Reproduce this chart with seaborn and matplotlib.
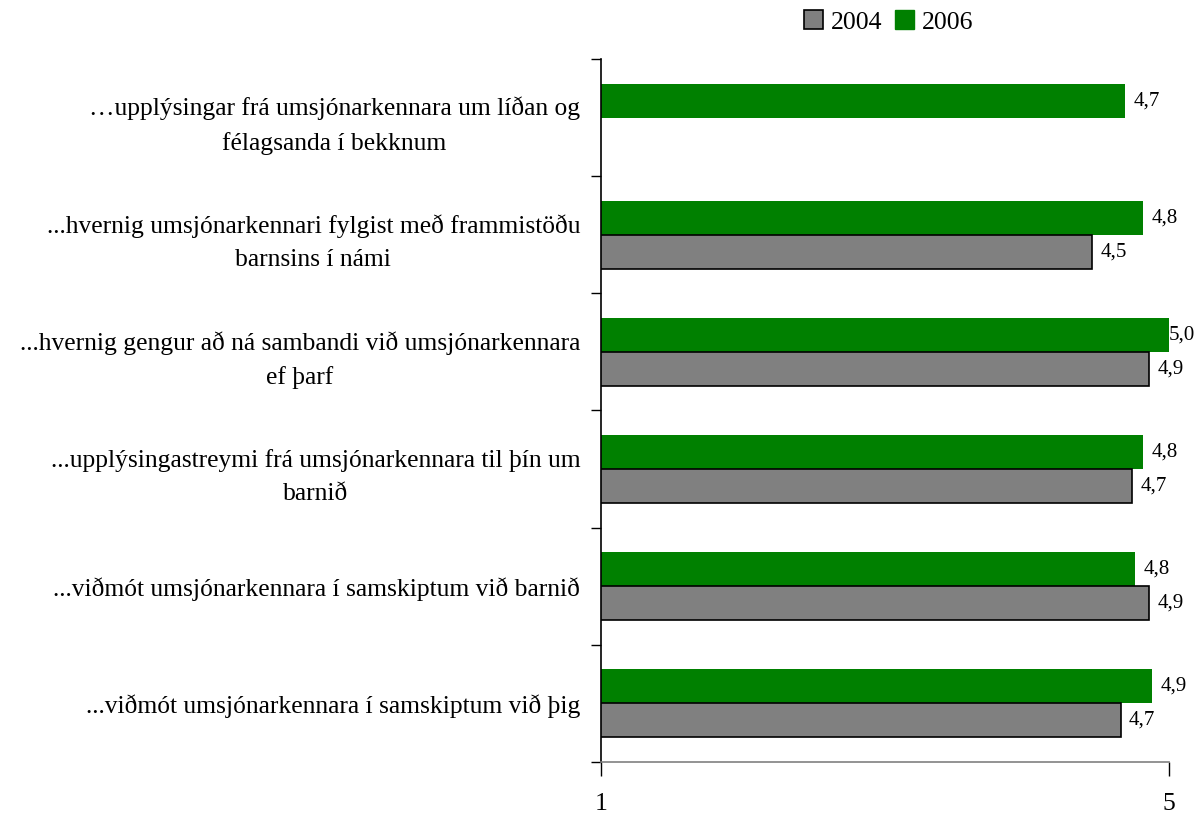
import numpy as np
import pandas as pd
import matplotlib
matplotlib.use("Agg")
import matplotlib.pyplot as plt
import seaborn as sns
from matplotlib.patches import Patch

categories = [
    "…upplýsingar frá umsjónarkennara um líðan og\nfélagsanda í bekknum",
    "...hvernig umsjónarkennari fylgist með frammistöðu\nbarnsins í námi",
    "...hvernig gengur að ná sambandi við umsjónarkennara\nef þarf",
    "...upplýsingastreymi frá umsjónarkennara til þín um\nbarnið",
    "...viðmót umsjónarkennara í samskiptum við barnið",
    "...viðmót umsjónarkennara í samskiptum við þig",
]
values_2004 = [np.nan, 4.46, 4.86, 4.74, 4.86, 4.66]
values_2006 = [4.69, 4.82, 5.00, 4.82, 4.76, 4.88]
years = ["2004", "2006"]
colors = {"2004": "#808080", "2006": "#008000"}
x_ticks = [1, 5]

rows = []
for c, v4, v6 in zip(categories, values_2004, values_2006):
    if not np.isnan(v4):
        rows.append({"cat": c, "year": "2004", "val": v4})
    rows.append({"cat": c, "year": "2006", "val": v6})
df = pd.DataFrame(rows)

sns.set_theme(style="white")
plt.rcParams["font.family"] = ["Liberation Serif", "DejaVu Serif"]
plt.rcParams["text.color"] = "black"
plt.rcParams["xtick.labelcolor"] = "black"
plt.rcParams["ytick.labelcolor"] = "black"

fig = plt.figure(figsize=(12.01, 8.16), dpi=100)
ax = fig.add_axes([0.5004, 0.0662, 0.4730, 0.8615])

sns.barplot(data=df, y="cat", x="val", hue="year", order=categories,
            hue_order=["2006", "2004"], palette=colors, orient="h",
            width=0.58, saturation=1, ax=ax, legend=False)

for cont, yr in zip(ax.containers, ["2006", "2004"]):
    for bar in cont:
        if yr == "2004":
            bar.set_edgecolor("black")
            bar.set_linewidth(1.2)
        else:
            bar.set_linewidth(0)
    labels = []
    for bar in cont:
        w = bar.get_width()
        labels.append("" if np.isnan(w) else f"{w:.1f}".replace(".", ","))
    anns = ax.bar_label(cont, labels=labels, padding=6, fontsize=15, color="black")
    for bar, ann in zip(cont, anns):
        if bar.get_width() >= 4.95:
            ann.xyann = (0, 0)

ax.set_xlim(1, 5)
ax.set_ylim(len(categories) - 0.5, -0.5)
ax.set_xticks(x_ticks)
ax.set_xticklabels([str(t) for t in x_ticks], fontsize=18.5)
ax.set_yticks(range(len(categories)))
ax.set_yticklabels(categories, fontsize=18.4)
for lbl in ax.get_yticklabels():
    lbl.set_multialignment("center")
    lbl.set_linespacing(1.62)
ax.set_yticks(np.arange(-0.5, len(categories), 1.0), minor=True)
ax.tick_params(axis="y", which="major", length=0, pad=15)
ax.tick_params(axis="y", which="minor", length=7, width=1, color="black", direction="out", left=True)
ax.tick_params(axis="x", which="major", length=10, width=1, color="black", direction="out", bottom=True, pad=12)
ax.set_xlabel("")
ax.set_ylabel("")

for s in ["top", "right"]:
    ax.spines[s].set_visible(False)
ax.spines["left"].set_color("black")
ax.spines["left"].set_linewidth(1.2)
ax.spines["bottom"].set_color("#808080")
ax.spines["bottom"].set_linewidth(1.2)

handles = [Patch(facecolor=colors["2004"], edgecolor="black", linewidth=1.2),
           Patch(facecolor=colors["2006"], edgecolor=colors["2006"])]
fig.legend(handles, years, loc="center", bbox_to_anchor=(0.74, 0.973), ncol=2,
           frameon=False, fontsize=18.5, handlelength=0.75, handleheight=0.75,
           columnspacing=0.5, handletextpad=0.3, labelcolor="black")

fig.savefig("out.png", dpi=100)
